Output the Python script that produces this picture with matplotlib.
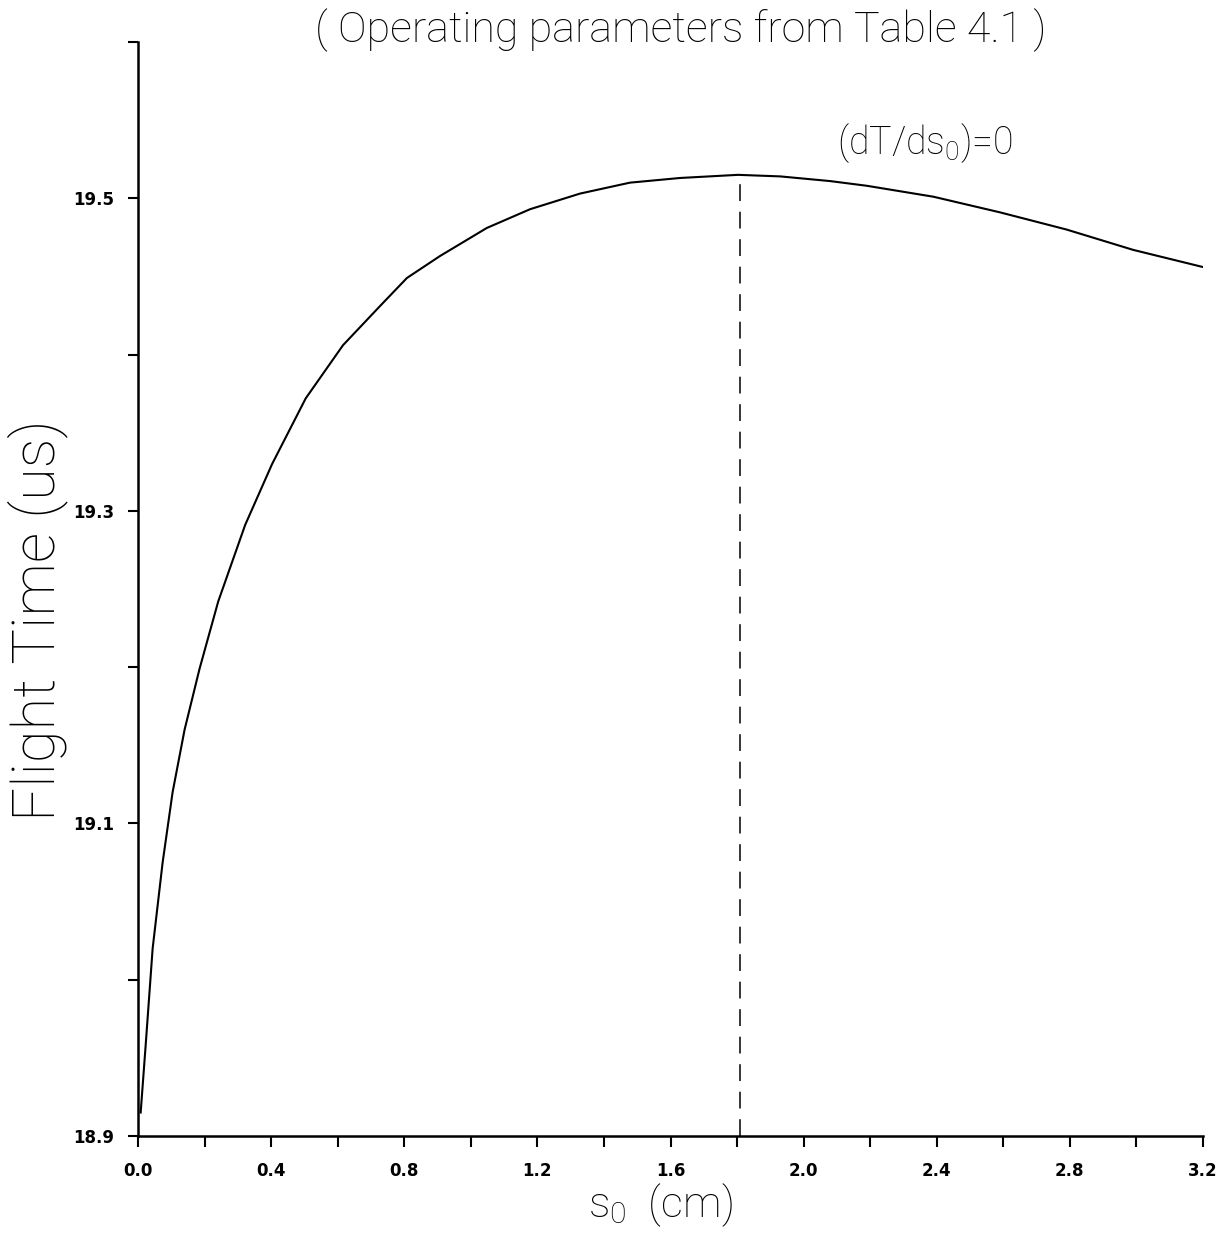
import matplotlib
matplotlib.use("Agg")
import matplotlib.pyplot as plt
from matplotlib.ticker import FixedLocator, FuncFormatter

# ---- data ----
s0 = [0.008, 0.023, 0.044, 0.074, 0.104, 0.140, 0.185, 0.241, 0.322, 0.403,
      0.504, 0.616, 0.727, 0.808, 0.907, 1.048, 1.178, 1.328, 1.478, 1.629,
      1.803, 1.930, 2.080, 2.190, 2.390, 2.590, 2.790, 2.990, 3.200]
flight_time = [18.915, 18.958, 19.020, 19.075, 19.120, 19.160, 19.199, 19.242,
               19.291, 19.330, 19.372, 19.406, 19.431, 19.449, 19.463, 19.481,
               19.493, 19.503, 19.510, 19.513, 19.515, 19.514, 19.511, 19.508,
               19.501, 19.491, 19.480, 19.467, 19.456]
s0_opt = 1.81
T_opt = 19.515

x_ticks = [0.0, 0.2, 0.4, 0.6, 0.8, 1.0, 1.2, 1.4, 1.6, 1.8, 2.0, 2.2, 2.4,
           2.6, 2.8, 3.0, 3.2]
x_labeled = [0.0, 0.4, 0.8, 1.2, 1.6, 2.0, 2.4, 2.8, 3.2]
y_ticks = [18.9, 19.0, 19.1, 19.2, 19.3, 19.4, 19.5, 19.6]
y_labeled = [18.9, 19.1, 19.3, 19.5]

title = "( Operating parameters from Table 4.1 )"
xlabel = r"$\mathregular{s_0}$  (cm)"
ylabel = "Flight Time (us)"
annot = r"(dT/ds$\mathregular{_0}$)=0"

LIGHT = dict(family=["Roboto", "DejaVu Sans"], fontweight="light",
             color="black")

# ---- figure ----
W, H = 1226, 1237
fig = plt.figure(figsize=(W / 100, H / 100), dpi=100)
ax = fig.add_axes([138 / W, 1 - 1136 / H, (1203 - 138) / W, (1136 - 42) / H])

ax.plot(s0, flight_time, color="black", lw=1.5, solid_joinstyle="round")
ax.plot([s0_opt, s0_opt], [18.9, T_opt], color="black", lw=1.1,
        linestyle=(0, (11, 7)))

ax.set_xlim(0.0, 3.2)
ax.set_ylim(18.9, 19.6)

for side in ("top", "right"):
    ax.spines[side].set_visible(False)
for side in ("left", "bottom"):
    ax.spines[side].set_linewidth(1.8)

ax.xaxis.set_major_locator(FixedLocator(x_ticks))
ax.yaxis.set_major_locator(FixedLocator(y_ticks))


def xfmt(v, pos):
    return f"{v:.1f}" if any(abs(v - t) < 1e-6 for t in x_labeled) else ""


def yfmt(v, pos):
    return f"{v:.1f}" if any(abs(v - t) < 1e-6 for t in y_labeled) else ""


ax.xaxis.set_major_formatter(FuncFormatter(xfmt))
ax.yaxis.set_major_formatter(FuncFormatter(yfmt))
ax.tick_params(axis="x", direction="out", length=8, width=1.5, pad=11,
               labelsize=12)
ax.tick_params(axis="y", direction="out", length=7, width=1.5, pad=10,
               labelsize=12)
for lab in ax.get_xticklabels() + ax.get_yticklabels():
    lab.set_fontweight("bold")

ax.text(2.10, 19.528, annot, fontsize=27, ha="left", va="baseline", **LIGHT)

fig.text(681 / W, 1 - 30 / H, title, fontsize=31, ha="center", va="center",
         **LIGHT)
fig.text(38 / W, 1 - 620 / H, ylabel, fontsize=43, rotation=90,
         ha="center", va="center", **LIGHT)
fig.text(660 / W, 1 - 1205 / H, xlabel, fontsize=31, ha="center",
         va="center", **LIGHT)

fig.savefig("out.png", dpi=100, facecolor="white")
